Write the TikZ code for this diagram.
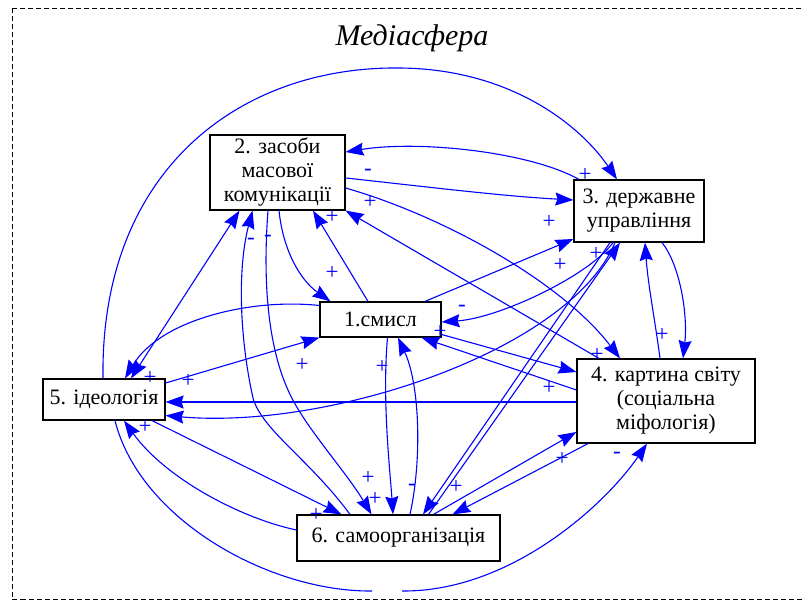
\documentclass[tikz,border=0pt]{standalone}
\usepackage{fontspec}
\setmainfont{Liberation Serif}
\usetikzlibrary{arrows.meta}
\definecolor{linkblue}{RGB}{0,0,255}
\begin{document}
\begin{tikzpicture}[x=1pt,y=-1pt,
  box/.style={draw=black,line width=1.2pt,fill=white,inner sep=0pt,align=center,
    font=\fontsize{22}{24}\selectfont},
  link/.style={draw=linkblue,line width=1.1pt},
  tip/.tip={Stealth[length=18pt,width=13pt,inset=2pt]},
  arr/.style={link,-tip},
  dblarr/.style={link,tip-tip},
  sgn/.style={text=linkblue,inner sep=0pt,font=\fontsize{23}{23}\selectfont}]

\fill[white] (0,0) rectangle (802,601);
\useasboundingbox (0,0) rectangle (802,601);

% frame of the media sphere
\draw[line width=0.9pt,dash pattern=on 5pt off 3pt] (12,8) rectangle (815,599.5);
\node[font=\fontsize{30}{30}\selectfont\itshape] (title) at (412,38) {Медіасфера};

% the six elements
\node[box,minimum width=135pt,minimum height=75pt] (n2) at (277.5,172.5) {2. засоби\\масової\\комунікації};
\node[box,minimum width=130pt,minimum height=62pt] (n3) at (639,211) {3. державне\\управління};
\node[box,minimum width=121pt,minimum height=35pt] (n1) at (380.5,319.5) {1.смисл};
\node[box,minimum width=178pt,minimum height=84pt] (n4) at (666,401) {4. картина світу\\(соціальна\\міфологія)};
\node[box,minimum width=122pt,minimum height=41pt] (n5) at (104,399.5) {5. ідеологія};
\node[box,minimum width=203pt,minimum height=46pt] (n6) at (398.5,538) {6. самоорганізація};

% helper points on the long arcs
\coordinate (arcTop) at (400,68);
\coordinate (gapL) at (372,591);
\coordinate (gapR) at (402,591);
\coordinate (pBend) at (253,398);
\coordinate (qBend) at (288,390);

% outer arcs
\draw[arr] ([xshift=-1pt]n5.north) .. controls (100,170) and (240,66) .. (arcTop)
  .. controls (510,69) and (580,125) .. ([xshift=-22pt]n3.north);
\draw[link] ([xshift=11pt]n5.south) .. controls (140,520) and (270,592) .. (gapL);
\draw[arr] (gapR) .. controls (510,592) and (605,505) .. ([xshift=-19pt]n4.south);

% links of 2
\draw[arr] ([yshift=-5.5pt]n2.east) .. controls (420,186) and (500,196) .. ([yshift=11pt]n3.west);
\draw[arr] ([xshift=-60pt]n3.north) .. controls (530,152) and (420,140) .. ([yshift=20.5pt]n2.east);
\draw[arr] ([yshift=-15.5pt]n2.east) .. controls (440,215) and (560,280) .. ([xshift=-46pt]n4.north);
\draw[arr] ([xshift=-67pt]n4.north) -- (n2.south east);
\draw[arr] ([xshift=1.5pt]n2.south) .. controls (283,250) and (300,280) .. ([xshift=-50pt]n1.north);
\draw[arr] ([xshift=-12.5pt]n1.north) -- ([xshift=35.5pt]n2.south);
\draw[dblarr] ([xshift=27pt]n5.north) -- ([xshift=-38pt]n2.south);
\draw[arr] ([xshift=-48.5pt]n6.north) .. controls (310,460) and (262,430) .. (pBend)
  .. controls (240,340) and (237,270) .. ([xshift=-25pt]n2.south);
\draw[arr] ([xshift=-9.5pt]n2.south) .. controls (262,290) and (270,350) .. (qBend)
  .. controls (303,425) and (345,470) .. ([xshift=-27pt]n6.north);

% links of 1
\draw[arr] ([yshift=14pt]n1.west) .. controls (250,298) and (160,320) .. ([xshift=21pt]n5.north);
\draw[arr] ([yshift=16.5pt]n5.east) -- (n1.south west);
\draw[arr] ([xshift=44.5pt]n1.north) -- ([yshift=-28pt]n3.west);
\draw[arr] ([xshift=-26pt]n3.south) .. controls (590,275) and (500,318) .. ([yshift=-2.5pt]n1.east);
\draw[arr] ([yshift=-15pt]n1.east) -- ([yshift=29pt]n4.west);
\draw[arr] ([yshift=11pt]n4.west) -- ([xshift=41pt]n1.south);
\draw[arr] ([xshift=7pt]n1.south) .. controls (382,400) and (390,470) .. ([xshift=-5.5pt]n6.north);
\draw[arr] ([xshift=11.5pt]n6.north) .. controls (422,460) and (420,385) .. ([xshift=17.5pt]n1.south);

% links of 3 and 4
\draw[arr] ([xshift=23pt]n3.south) .. controls (680,265) and (688,315) .. ([xshift=17pt]n4.north);
\draw[arr] ([xshift=-6pt]n4.north) .. controls (655,320) and (648,285) .. ([xshift=6pt]n3.south);
\draw[arr] ([xshift=-24pt]n3.south) .. controls (570,350) and (330,430) .. ([yshift=-16pt]n5.east);
\draw[arr] ([xshift=-29pt]n3.south) -- ([xshift=24.5pt]n6.north);
\draw[arr] ([xshift=30pt]n6.north) -- ([xshift=-19pt]n3.south);
\draw[arr] ([yshift=-1pt]n4.west) -- ([yshift=-2.5pt]n5.east);
\draw[arr] ([xshift=-78pt]n4.south) -- ([xshift=54pt]n6.north);
\draw[arr] ([xshift=35pt]n6.north) -- ([yshift=-31pt]n4.west);

% links of 5 and 6
\draw[arr] ([xshift=48pt]n5.south) -- ([xshift=-57pt]n6.north);
\draw[arr] ([yshift=8pt]n6.west) .. controls (240,518) and (165,478) .. ([xshift=20pt]n5.south);

% signs of the influences
\node[sgn] (m1) at (368,172) {-};
\node[sgn] (m2) at (251,241) {-};
\node[sgn] (m3) at (268,238) {-};
\node[sgn] (m4) at (462,308) {-};
\node[sgn] (m5) at (412,487) {-};
\node[sgn] (m6) at (617,455) {-};
\node[sgn] (p1) at (370,202) {+};
\node[sgn] (p2) at (332,217) {+};
\node[sgn] (p3) at (332,273) {+};
\node[sgn] (p4) at (585,175) {+};
\node[sgn] (p5) at (549,222) {+};
\node[sgn] (p6) at (596,254) {+};
\node[sgn] (p7) at (560,265) {+};
\node[sgn] (p8) at (440,332) {+};
\node[sgn] (p9) at (302,365) {+};
\node[sgn] (p10) at (382,367) {+};
\node[sgn] (p11) at (150,378) {+};
\node[sgn] (p12) at (188,381) {+};
\node[sgn] (p13) at (145,427) {+};
\node[sgn] (p14) at (597,355) {+};
\node[sgn] (p15) at (662,335) {+};
\node[sgn] (p16) at (549,388) {+};
\node[sgn] (p17) at (562,459) {+};
\node[sgn] (p18) at (456,487) {+};
\node[sgn] (p19) at (368,478) {+};
\node[sgn] (p20) at (375,499) {+};
\node[sgn] (p21) at (316,515) {+};
\end{tikzpicture}
\end{document}
